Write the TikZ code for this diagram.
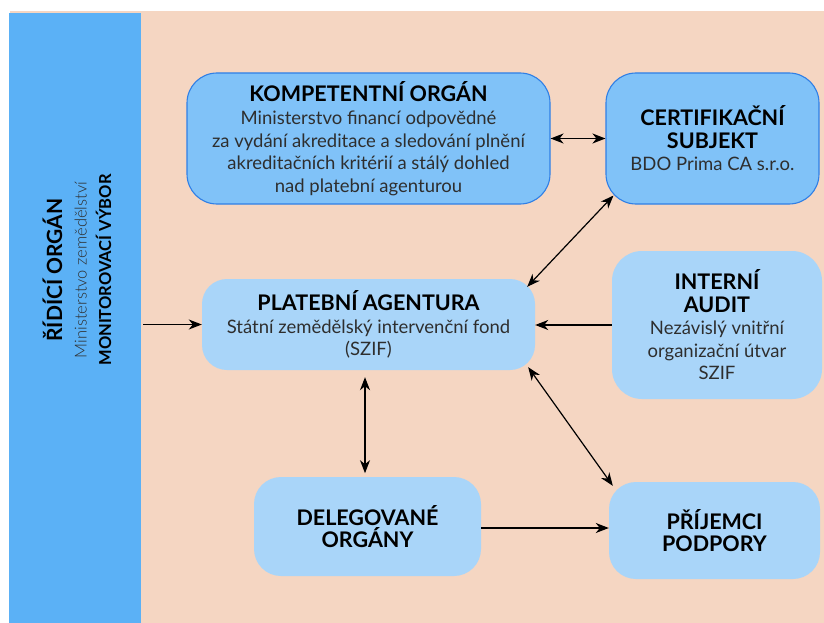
\documentclass[tikz,border=0pt]{standalone}
\usepackage{fontspec}
\setmainfont{Lato}
\newfontfamily\latolight{Lato Light}
\usetikzlibrary{arrows.meta,calc}
\definecolor{peach}{HTML}{F5D6C2}
\definecolor{barblue}{HTML}{5BB1F6}
\definecolor{darkbox}{HTML}{80C2F8}
\definecolor{darkedge}{HTML}{2F7FE6}
\definecolor{lightbox}{HTML}{A9D5F9}
\definecolor{bodytext}{HTML}{2E2E2E}
\newcommand{\ttl}[1]{{\fontsize{21.5}{25}\selectfont\bfseries\color{black}#1}}
\begin{document}
\begin{tikzpicture}[x=1pt,y=-1pt,
  box/.style={rectangle, align=center, inner sep=0pt, text=bodytext,
    font=\fontsize{18.5}{22.5}\selectfont},
  darkb/.style={box, fill=darkbox, draw=darkedge, line width=1.1pt, rounded corners=30pt},
  lightb/.style={box, fill=lightbox, rounded corners=27pt},
  arr/.style={-{Stealth[length=13pt,width=10pt,inset=4pt]}, line width=1.2pt},
  darr/.style={{Stealth[length=13pt,width=10pt,inset=4pt]}-{Stealth[length=13pt,width=10pt,inset=4pt]}, line width=1.2pt}]
\useasboundingbox (0,0) rectangle (824,623);
\fill[white] (0,0) rectangle (824,623);
\fill[peach] (10,11) rectangle (824,623);
\node[fill=barblue, inner sep=0pt, minimum width=132pt, minimum height=610pt] (bar) at (75,318) {};
\node[rotate=90, align=center, inner sep=0pt, font=\fontsize{17}{24.5}\selectfont] (barlabel) at (77,270)
  {{\fontsize{21}{24.5}\selectfont\bfseries ŘÍDÍCÍ ORGÁN}\\
   {\fontsize{16.5}{24.5}\selectfont\latolight\color{bodytext}Ministerstvo zemědělství}\\
   {\fontsize{16.5}{24.5}\selectfont\bfseries MONITOROVACÍ VÝBOR}};

\node[darkb, minimum width=363pt, minimum height=131pt] (ko) at (368.5,138.5)
  {\ttl{KOMPETENTNÍ ORGÁN}\\[1pt]
   Ministerstvo financí odpovědné\\
   za vydání akreditace a sledování plnění\\
   akreditačních kritérií a stálý dohled\\
   nad platební agenturou};
\node[darkb, minimum width=213pt, minimum height=131pt] (cs) at (712.5,138.5)
  {\ttl{CERTIFIKAČNÍ}\\ \ttl{SUBJEKT}\\
   BDO Prima CA s.r.o.};
\node[lightb, rounded corners=25pt, minimum width=333pt, minimum height=91pt] (pa) at (368.5,324.5)
  {\ttl{PLATEBNÍ AGENTURA}\\
   Státní zemědělský intervenční fond\\
   (SZIF)};
\node[lightb, rounded corners=30pt, minimum width=210pt, minimum height=148pt] (ia) at (717,325)
  {\ttl{INTERNÍ}\\ \ttl{AUDIT}\\
   Nezávislý vnitřní\\
   organizační útvar\\
   SZIF};
\node[lightb, minimum width=227pt, minimum height=99pt] (do) at (367.5,526.5)
  {\ttl{DELEGOVANÉ}\\ \ttl{ORGÁNY}};
\node[lightb, minimum width=211pt, minimum height=97pt] (pp) at (714.5,530.5)
  {\ttl{PŘÍJEMCI}\\ \ttl{PODPORY}};

\draw[arr] ($(bar.east |- pa.west)+(2,0)$) -- (pa.west);
\draw[darr] (ko.east) -- (cs.west);
\draw[darr] ($(cs.south west)+(8,-9)$) -- ($(pa.north east)+(-8,8)$);
\draw[arr] (ia.west) -- (ia.west -| pa.east);
\draw[darr] ($(pa.south)+(-3.5,7)$) -- ($(pa.south)+(-3.5,103)$);
\draw[darr] ($(pa.south east)+(-7,-3)$) -- ($(pp.north west)+(4,4)$);
\draw[arr] ($(do.east)+(0,1.5)$) -- ($(do.east -| pp.west)+(0,1.5)$);
\end{tikzpicture}
\end{document}
